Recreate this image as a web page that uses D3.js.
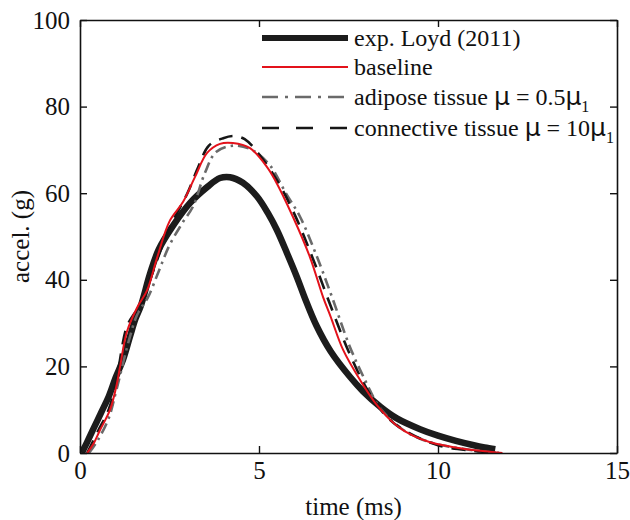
<!DOCTYPE html>
<html>
<head>
<meta charset="utf-8">
<script src="https://cdn.jsdelivr.net/npm/d3@7"></script>
<style>
  body { margin: 0; background: #fff; }
  text { font-family: "Liberation Serif", "DejaVu Serif", serif; fill: #111; }
</style>
</head>
<body>
<div id="chart"></div>
<script>
// values: [time (ms), accel (g)]
var loyd = [[0.05, 0], [0.2, 2.5], [0.37, 5.5], [0.6, 9.5], [0.8, 13], [1.0, 17.5], [1.2, 21.5], [1.4, 27],
  [1.55, 31], [1.7, 34], [1.96, 41.5], [2.2, 47], [2.6, 52.5], [3.07, 57.7], [3.55, 61.4], [3.91, 63.5],
  [4.19, 63.7], [4.55, 62.4], [4.94, 59.3], [5.25, 55.4], [5.5, 51.5], [5.78, 46.2], [6.06, 40.6],
  [6.28, 35.8], [6.6, 29.5], [7.0, 23.5], [7.54, 17.6], [7.9, 14.3], [8.4, 10.6], [8.85, 8], [9.5, 5.5],
  [10.0, 4], [10.5, 2.8], [11.0, 1.8], [11.3, 1.3], [11.6, 0.9]];

var baseline = [[0.2, 0], [0.4, 2.5], [0.56, 5.3], [0.84, 10], [1.03, 16], [1.12, 20], [1.31, 28], [1.59, 33.5],
  [1.87, 37.5], [2.15, 45], [2.5, 53.5], [2.88, 58], [3.21, 63.7], [3.55, 69.3], [3.91, 71.4], [4.27, 71.6],
  [4.75, 70.4], [5.22, 66.1], [5.45, 63], [5.95, 54.5], [6.42, 45.3], [6.79, 36], [7.0, 31.5], [7.35, 23.8],
  [7.82, 16.9], [8.3, 11], [8.85, 6.3], [9.3, 4], [9.78, 2.5], [10.7, 1], [11.3, 0.4], [11.8, 0]];

var adipose = [[0.25, 0], [0.5, 3], [0.8, 8], [1.03, 15], [1.4, 27], [1.6, 32], [1.9, 36], [2.2, 42], [2.5, 48],
  [2.85, 53], [3.16, 57], [3.49, 64.7], [3.8, 69.5], [4.3, 71], [4.8, 70], [5.3, 66.5], [5.75, 60],
  [6.15, 54.5], [6.62, 45.3], [7.04, 36], [7.54, 24.5], [8.0, 16.2], [8.38, 10.4], [9.0, 5.5], [9.5, 3.3],
  [10.0, 2], [11.0, 0.6], [11.7, 0]];

var connective = [[0.2, 0], [0.5, 5], [0.8, 10], [1.0, 16], [1.3, 29], [1.5, 32], [1.7, 34], [2.0, 41],
  [2.5, 52], [3.0, 60], [3.3, 66], [3.6, 71], [4.0, 72.7], [4.3, 73.2], [4.6, 72.5], [5.0, 69], [5.5, 63],
  [6.0, 55], [6.5, 45], [7.0, 34], [7.5, 23.5], [8.0, 15], [8.5, 9], [9.0, 5.5], [10.0, 1.8], [11.0, 0.5],
  [11.7, 0]];

var xTicks = [0, 5, 10, 15];
var yTicks = [0, 20, 40, 60, 80, 100];

var margin = { top: 20, right: 13, bottom: 67, left: 80 },
    width = 630 - margin.left - margin.right,
    height = 520 - margin.top - margin.bottom;

var svg = d3.select("#chart")
    .append("svg")
    .attr("width", 630)
    .attr("height", 520);

var g = svg.append("g")
    .attr("transform", "translate(" + margin.left + "," + margin.top + ")");

var x = d3.scaleLinear().domain([0, 15]).range([0, width]);
var y = d3.scaleLinear().domain([0, 100]).range([height, 0]);

var line = d3.line()
    .x(function (d) { return x(d[0]); })
    .y(function (d) { return y(d[1]); })
    .curve(d3.curveCatmullRom);

var series = [
  { name: "exp. Loyd (2011)", data: loyd, color: "#1c1c1c", w: 6.5, dash: null },
  { name: "baseline", data: baseline, color: "#e3121b", w: 2, dash: null },
  { name: "adipose", data: adipose, color: "#6a6a6a", w: 2.6, dash: "11,5,2.5,5" },
  { name: "connective", data: connective, color: "#161616", w: 2.6, dash: "14,9" }
];

g.append("clipPath").attr("id", "clip")
    .append("rect").attr("width", width).attr("height", height + 3).attr("y", -3);

var plot = g.append("g").attr("clip-path", "url(#clip)");

// draw order: thick exp under the rest
[0, 2, 3, 1].forEach(function (i) {
  var s = series[i];
  plot.append("path")
      .datum(s.data)
      .attr("d", line)
      .attr("fill", "none")
      .attr("stroke", s.color)
      .attr("stroke-width", s.w)
      .attr("stroke-dasharray", s.dash)
      .attr("stroke-linejoin", "round");
});

// axes, ticks inward, mirrored on top and right
var xAxis = g.append("g")
    .attr("transform", "translate(0," + height + ")")
    .call(d3.axisBottom(x).tickValues(xTicks).tickSizeInner(-7).tickSizeOuter(0).tickPadding(6));
var xTop = g.append("g")
    .call(d3.axisTop(x).tickValues(xTicks).tickSizeInner(-7).tickSizeOuter(0).tickFormat(""));
var yAxis = g.append("g")
    .call(d3.axisLeft(y).tickValues(yTicks).tickSizeInner(-7).tickSizeOuter(0).tickPadding(10));
var yRight = g.append("g")
    .attr("transform", "translate(" + width + ",0)")
    .call(d3.axisRight(y).tickValues(yTicks).tickSizeInner(-7).tickSizeOuter(0).tickFormat(""));

[xAxis, xTop, yAxis, yRight].forEach(function (a) {
  a.select(".domain").attr("stroke", "#111").attr("stroke-width", 1.6);
  a.selectAll(".tick line").attr("stroke", "#111").attr("stroke-width", 1.4);
  a.selectAll(".tick text")
      .style("font-family", "'Liberation Serif', serif")
      .style("font-size", "25px")
      .attr("fill", "#111");
});
xAxis.selectAll(".tick text").attr("dy", "0.8em");

g.append("text")
    .attr("x", width / 2 + 5)
    .attr("y", height + 62)
    .attr("text-anchor", "middle")
    .style("font-size", "25px")
    .text("time (ms)");

g.append("text")
    .attr("transform", "translate(" + (29 - margin.left) + "," + (height / 2) + ") rotate(-90)")
    .attr("text-anchor", "middle")
    .style("font-size", "25px")
    .text("accel. (g)");

// legend
var legend = svg.append("g");
var rows = [38, 67, 97, 128];
var lx0 = 262, lx1 = 348, tx = 354;
series.forEach(function (s, i) {
  legend.append("line")
      .attr("x1", lx0).attr("x2", lx1)
      .attr("y1", rows[i]).attr("y2", rows[i])
      .attr("stroke", s.color)
      .attr("stroke-width", i === 0 ? 6 : s.w)
      .attr("stroke-dasharray", i === 2 ? "16,7,3,7" : (i === 3 ? "17,17" : null));
});

function legendText(yy) {
  return legend.append("text").attr("x", tx).attr("y", yy).style("font-size", "24px");
}
function mu(t) {
  t.append("tspan").style("font-family", "'DejaVu Sans', sans-serif").style("font-size", "25px").text("\u03bc");
}
legendText(rows[0] + 8).text("exp. Loyd (2011)");
legendText(rows[1] + 8).text("baseline");

var t3 = legendText(rows[2] + 8);
t3.append("tspan").text("adipose tissue ");
mu(t3);
t3.append("tspan").text(" = 0.5");
mu(t3);
t3.append("tspan").attr("dy", 7).style("font-size", "16px").text("1");

var t4 = legendText(rows[3] + 8);
t4.append("tspan").text("connective tissue ");
mu(t4);
t4.append("tspan").text(" = 10");
mu(t4);
t4.append("tspan").attr("dy", 7).style("font-size", "16px").text("1");
</script>
</body>
</html>
